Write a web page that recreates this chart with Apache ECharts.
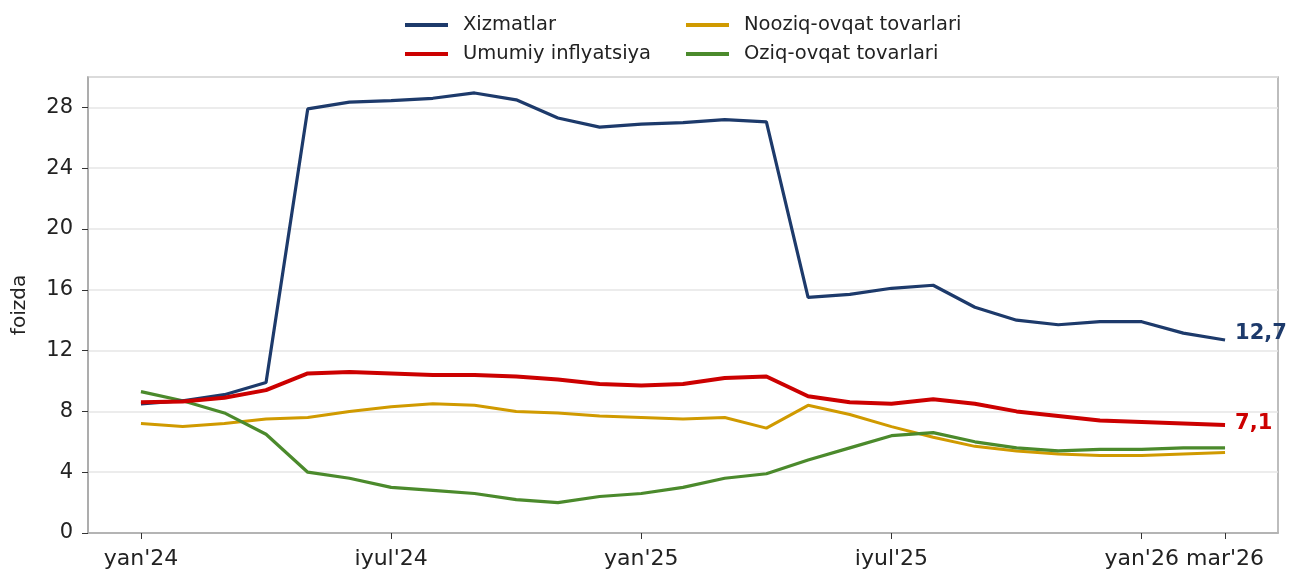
<!DOCTYPE html>
<html>
<head>
  <meta charset="utf-8">
  <title>Inflyatsiya</title>
  <script src="https://cdn.jsdelivr.net/npm/echarts@6/dist/echarts.min.js"></script>
</head>
<body style="margin:0;background:#fff">
  <div id="main" style="width:1291px;height:572px"></div>
  <script type="text/javascript">
    // months since yan'24
    var months = [0,1,2,3,4,5,6,7,8,9,10,11,12,13,14,15,16,17,18,19,20,21,22,23,24,25,26];
    var tickPos = [0, 6, 12, 18, 24, 26];
    var tickLabels = ["yan'24", "iyul'24", "yan'25", "iyul'25", "yan'26", "mar'26"];

    var xizmatlar = [8.5,8.7,9.1,9.9,27.9,28.35,28.45,28.6,28.95,28.5,27.3,26.7,26.9,27.0,27.2,27.05,15.5,15.7,16.1,16.3,14.85,14.0,13.7,13.9,13.9,13.15,12.7];
    var umumiy = [8.6,8.65,8.9,9.4,10.5,10.6,10.5,10.4,10.4,10.3,10.1,9.8,9.7,9.8,10.2,10.3,9.0,8.6,8.5,8.8,8.5,8.0,7.7,7.4,7.3,7.2,7.1];
    var nooziq = [7.2,7.0,7.2,7.5,7.6,8.0,8.3,8.5,8.4,8.0,7.9,7.7,7.6,7.5,7.6,6.9,8.4,7.8,7.0,6.3,5.7,5.4,5.2,5.1,5.1,5.2,5.3];
    var oziq = [9.3,8.7,7.9,6.5,4.0,3.6,3.0,2.8,2.6,2.2,2.0,2.4,2.6,3.0,3.6,3.9,4.8,5.6,6.4,6.6,6.0,5.6,5.4,5.5,5.5,5.6,5.6];

    function pairs(arr) {
      return months.map(function (m, i) { return [m, arr[i]]; });
    }

    var font = 'DejaVu Sans';
    var myChart = echarts.init(document.getElementById('main'));

    var legendBase = {
      orient: 'vertical', top: 10,
      itemWidth: 43, itemHeight: 4, itemGap: 9,
      textStyle: { fontSize: 19.5, color: '#222', fontFamily: font, padding: [0, 0, 0, 10] },
      icon: 'rect'
    };

    var option = {
      animation: false,
      textStyle: { fontFamily: font },
      legend: [
        Object.assign({ left: 400, data: ['Xizmatlar', 'Umumiy inflyatsiya'] }, legendBase),
        Object.assign({ left: 681, data: ['Nooziq-ovqat tovarlari', 'Oziq-ovqat tovarlari'] }, legendBase)
      ],
      grid: {
        left: 88, right: 13, top: 77, bottom: 39,
        show: true, borderColor: '#a8a8a8', borderWidth: 1.5
      },
      xAxis: {
        type: 'value', min: -1.27, max: 27.27,
        splitLine: { show: false },
        axisLine: { show: true, lineStyle: { color: '#a8a8a8', width: 1.5 } },
        axisTick: { show: true, customValues: tickPos, length: 6, lineStyle: { color: '#333' } },
        axisLabel: {
          customValues: tickPos, fontSize: 22, color: '#222', margin: 15,
          formatter: function (v) { return tickLabels[tickPos.indexOf(v)]; }
        }
      },
      yAxis: {
        type: 'value', min: 0, max: 30, interval: 4,
        name: 'foizda', nameLocation: 'middle', nameGap: 58, nameRotate: 90,
        nameTextStyle: { fontSize: 20, color: '#222' },
        axisLine: { show: true, onZero: false, lineStyle: { color: '#a8a8a8', width: 1.5 } },
        axisTick: { show: true, length: 6, lineStyle: { color: '#333' } },
        axisLabel: { fontSize: 21, color: '#222', margin: 15, showMaxLabel: false },
        splitLine: { lineStyle: { color: '#e6e6e6', width: 1.5 } }
      },
      series: [
        {
          name: 'Xizmatlar', type: 'line', data: pairs(xizmatlar),
          symbol: 'none', color: '#1d3a6b', lineStyle: { width: 3.2 }, z: 4,
          endLabel: {
            show: true, fontSize: 21, fontWeight: 'bold', color: '#1d3a6b', distance: 10, offset: [0, -6],
            formatter: function (p) { return String(p.value[1]).replace('.', ','); }
          }
        },
        {
          name: 'Umumiy inflyatsiya', type: 'line', data: pairs(umumiy),
          symbol: 'none', color: '#cc0000', lineStyle: { width: 4 }, z: 5,
          endLabel: {
            show: true, fontSize: 21, fontWeight: 'bold', color: '#cc0000', distance: 10, offset: [0, -2],
            formatter: function (p) { return String(p.value[1]).replace('.', ','); }
          }
        },
        {
          name: 'Nooziq-ovqat tovarlari', type: 'line', data: pairs(nooziq),
          symbol: 'none', color: '#d09a00', lineStyle: { width: 3 }, z: 3
        },
        {
          name: 'Oziq-ovqat tovarlari', type: 'line', data: pairs(oziq),
          symbol: 'none', color: '#4b8a2c', lineStyle: { width: 3.2 }, z: 3
        }
      ]
    };

    myChart.setOption(option);
  </script>
</body>
</html>
